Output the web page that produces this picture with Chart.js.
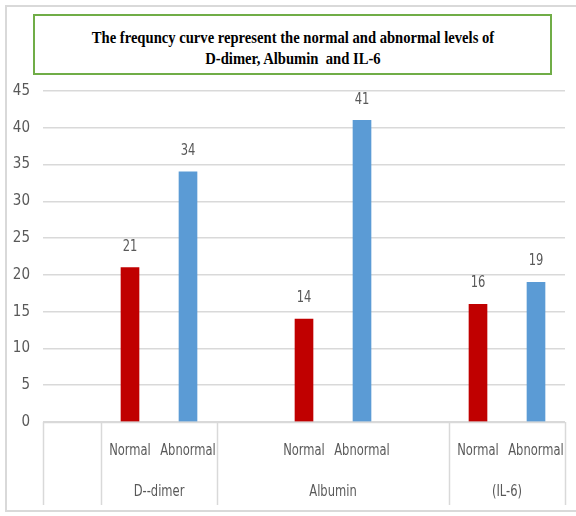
<!DOCTYPE html>
<html>
<head>
<meta charset="utf-8">
<script src="https://cdn.jsdelivr.net/npm/chart.js@4"></script>
<style>
  html, body { margin: 0; padding: 0; background: #fff; }
  #wrap { position: relative; width: 576px; height: 516px; }
  #frame { position: absolute; left: 5px; top: 5px; width: 572px; height: 507px; border: 2px solid #d9d9d9; box-sizing: border-box; border-right: none; }
  #titleBox {
    position: absolute; left: 33px; top: 14px; width: 519px; height: 61px;
    border: 2px solid #70ad47; box-sizing: border-box;
    font-family: "Liberation Serif", "Times New Roman", serif; font-weight: bold;
    font-size: 17px; line-height: 21px; text-align: center; color: #000;
    padding-top: 11px;
  }
  #titleBox span { display: inline-block; transform: scaleX(0.86); transform-origin: center; white-space: nowrap; }
  canvas { position: absolute; left: 0; top: 0; }
</style>
</head>
<body>
<div id="wrap">
  <div id="frame"></div>
  <div id="titleBox"><span>The frequncy curve represent the normal and abnormal levels of</span><br><span>D-dimer, Albumin&nbsp; and IL-6</span></div>
  <canvas id="chart" width="576" height="516"></canvas>
</div>
<script>
// Dados
const categories = ['', 'Normal', 'Abnormal', '', 'Normal', 'Abnormal', '', 'Normal', 'Abnormal'];
const groupNames = ['', 'D--dimer', 'Albumin', '(IL-6)'];
const groupSizes = [1, 2, 4, 2];
const normalValues = [null, 21, null, null, 14, null, null, 16, null];
const abnormalValues = [null, null, 34, null, null, 41, null, null, 19];
const yTicks = [0, 5, 10, 15, 20, 25, 30, 35, 40, 45];

const AXIS_FONT = '"Liberation Sans Narrow", "DejaVu Sans Condensed", sans-serif';
const TEXT_COLOR = '#595959';
const NARROW = 0.8;

// texto estreito (simula fonte condensada)
function narrowText(ctx, txt, x, y) {
    ctx.save();
    ctx.translate(x, y);
    ctx.scale(NARROW, 1);
    ctx.fillText(txt, 0, 0);
    ctx.restore();
}

// Rótulos de valor acima das barras
const valueLabels = {
    id: 'valueLabels',
    afterDatasetsDraw(chart) {
        const ctx = chart.ctx;
        ctx.save();
        ctx.font = '16px ' + AXIS_FONT;
        ctx.fillStyle = TEXT_COLOR;
        ctx.textAlign = 'center';
        ctx.textBaseline = 'bottom';
        chart.data.datasets.forEach((ds, i) => {
            chart.getDatasetMeta(i).data.forEach((bar, j) => {
                if (ds.data[j] == null) return;
                narrowText(ctx, String(ds.data[j]), bar.x, bar.y - 13);
            });
        });
        ctx.restore();
    }
};

// Eixo x em dois níveis
const multiAxis = {
    id: 'multiAxis',
    afterDraw(chart) {
        const ctx = chart.ctx;
        const x = chart.scales.x;
        const top = chart.chartArea.bottom;
        const bottom = top + 83;
        const half = (x.getPixelForValue(1) - x.getPixelForValue(0)) / 2;
        ctx.save();
        ctx.strokeStyle = '#d9d9d9';
        ctx.lineWidth = 1.5;
        ctx.font = '16px ' + AXIS_FONT;
        ctx.fillStyle = TEXT_COLOR;
        ctx.textAlign = 'center';
        ctx.textBaseline = 'middle';

        categories.forEach((c, i) => {
            if (c) narrowText(ctx, c, x.getPixelForValue(i), top + 29);
        });

        let idx = 0;
        const edges = [x.getPixelForValue(0) - half];
        groupNames.forEach((g, k) => {
            const start = x.getPixelForValue(idx) - half;
            idx += groupSizes[k];
            const end = x.getPixelForValue(idx - 1) + half;
            edges.push(end);
            if (g) narrowText(ctx, g, (start + end) / 2, top + 70);
        });
        edges.forEach(px => {
            ctx.beginPath();
            ctx.moveTo(Math.round(px) + 0.5, top);
            ctx.lineTo(Math.round(px) + 0.5, bottom);
            ctx.stroke();
        });
        ctx.beginPath();
        ctx.moveTo(edges[0], top + 0.5);
        ctx.lineTo(edges[edges.length - 1], top + 0.5);
        ctx.stroke();
        ctx.restore();
    }
};

new Chart(document.getElementById('chart'), {
    type: 'bar',
    data: {
        labels: categories,
        datasets: [
            { label: 'Normal', data: normalValues, backgroundColor: '#c00000', grouped: false, barThickness: 18 },
            { label: 'Abnormal', data: abnormalValues, backgroundColor: '#5b9bd5', grouped: false, barThickness: 18 }
        ]
    },
    options: {
        responsive: false,
        animation: false,
        layout: { padding: { top: 91, right: 11, bottom: 11, left: 5 } },
        plugins: {
            legend: { display: false },
            tooltip: { enabled: false }
        },
        scales: {
            x: {
                ticks: { display: false },
                grid: { display: false },
                border: { display: false },
                afterFit: (scale) => { scale.height = 83; }
            },
            y: {
                min: 0,
                max: 45,
                afterBuildTicks: (scale) => { scale.ticks = yTicks.map(v => ({ value: v })); },
                ticks: {
                    color: TEXT_COLOR,
                    font: { family: AXIS_FONT, size: 15 },
                    padding: 13
                },
                grid: { color: '#d9d9d9', lineWidth: 1.5, drawTicks: false },
                border: { display: false },
                afterFit: (scale) => { scale.width = 38; }
            }
        }
    },
    plugins: [valueLabels, multiAxis]
});
</script>
</body>
</html>
